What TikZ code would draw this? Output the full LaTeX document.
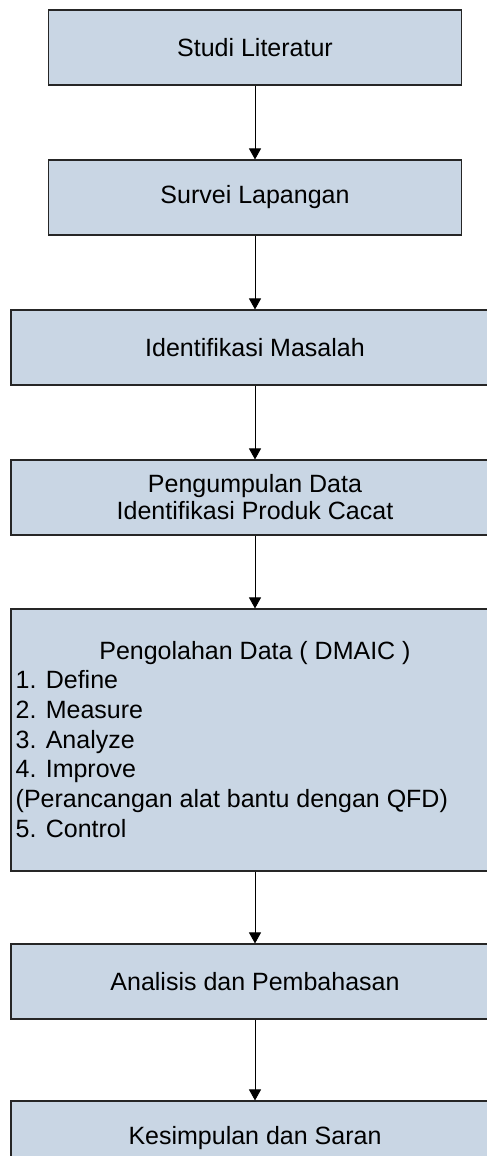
\documentclass[tikz,border=0pt]{standalone}
\usepackage{fontspec}
\setmainfont{Liberation Sans}
\usetikzlibrary{arrows.meta}
\definecolor{boxfill}{RGB}{201,214,228}
\begin{document}
\begin{tikzpicture}[x=1pt,y=-1pt,
  box/.style={draw=black!85, line width=1.1pt, fill=boxfill, inner sep=0pt,
    font=\fontsize{25}{27}\selectfont, align=center},
  narrow/.style={box, minimum width=413pt, minimum height=75pt},
  wide/.style={box, minimum width=488pt, minimum height=75pt},
  txt/.style={inner sep=0pt, font=\fontsize{25}{29.7}\selectfont},
  flow/.style={draw=black, line width=1pt, -{Triangle[width=12pt,length=11pt]}}]
\useasboundingbox (0,0) rectangle (487,1156);
\clip (0,0) rectangle (487,1156);
\node[narrow] (b1) at (255,47.5) {Studi Literatur};
\node[narrow] (b2) at (255,197.5) {Survei Lapangan};
\node[wide] (b3) at (255,347.5) {Identifikasi Masalah};
\node[wide] (b4) at (255,497.5) {Pengumpulan Data\\Identifikasi Produk Cacat};
\node[wide, minimum height=262pt] (b5) at (255,740) {};
\node[txt, anchor=base] (b5t) at (255,659) {Pengolahan Data ( DMAIC )};
\node[txt, anchor=north west, align=left] (b5l) at (15.5,670.5) {1. Define\\2. Measure\\3. Analyze\\4. Improve\\(Perancangan alat bantu dengan QFD)\\5. Control};
\node[wide] (b6) at (255,981.5) {Analisis dan Pembahasan};
\node[wide] (b7) at (255,1138.5) {Kesimpulan dan Saran};
\draw[flow] (b1) -- (b2);
\draw[flow] (b2) -- (b3);
\draw[flow] (b3) -- (b4);
\draw[flow] (b4) -- (b5);
\draw[flow] (b5) -- (b6);
\draw[flow] (b6) -- (b7);
\end{tikzpicture}
\end{document}
